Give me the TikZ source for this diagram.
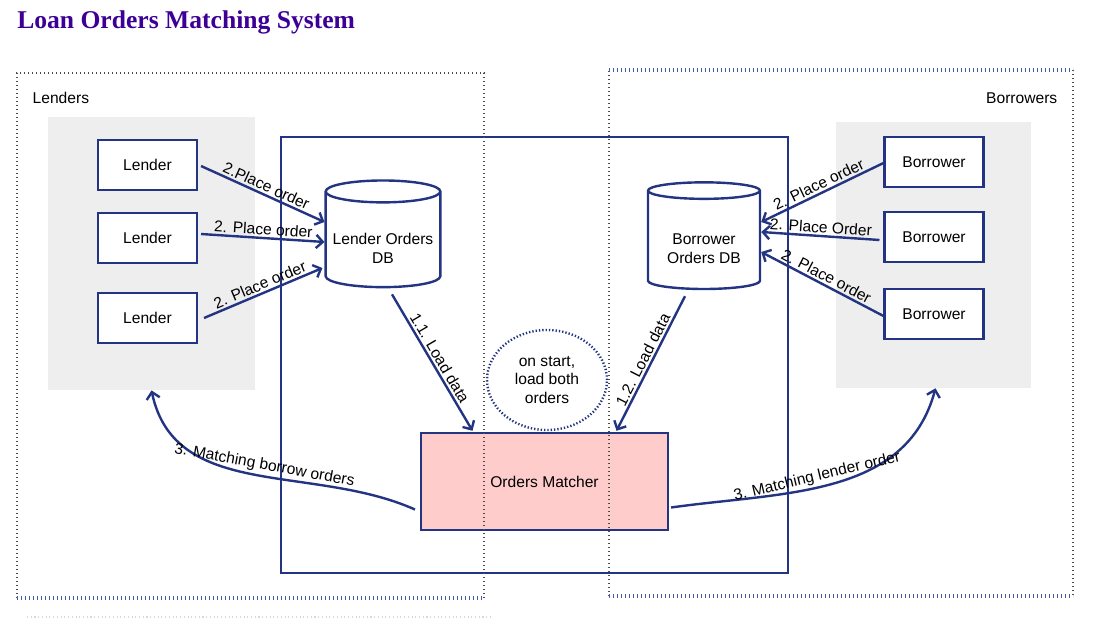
\documentclass[tikz,border=0pt]{standalone}
\usepackage{fontspec}
\setmainfont{Liberation Sans}
\newfontfamily\titlefont{Liberation Serif}
\usetikzlibrary{arrows.meta}
\usetikzlibrary{shapes.geometric}
\usetikzlibrary{calc}
\definecolor{navy}{RGB}{35,52,130}
\definecolor{titlepurple}{RGB}{60,0,150}
\definecolor{panelgray}{RGB}{238,238,238}
\definecolor{matcherpink}{RGB}{255,204,204}
\definecolor{dotblue}{RGB}{70,90,165}
\tikzset{
  actor/.style={draw=navy, line width=1.8pt, fill=white, minimum width=74pt, minimum height=37.5pt},
  ordersdb/.style={cylinder, shape border rotate=90, aspect=0.2, draw=navy, line width=1.8pt, fill=white, minimum width=86pt, minimum height=80pt, align=center},
  flow/.style={navy, line width=1.8pt, -{Straight Barb[length=5pt,width=10pt]}},
  flowlabel/.style={sloped, above, inner sep=1.5pt, text=black},
  greydots/.style={black!70, line width=1pt, dotted},
  bluedots/.style={dotblue, line width=2.5pt, dash pattern=on 1.1pt off 1.9pt}
}
\newcommand{\dbpush}{\rule{0pt}{18pt}}
\begin{document}
\begin{tikzpicture}[line cap=butt, line join=miter, x=0.75pt, y=-0.75pt, font=\fontsize{11.7}{14}\selectfont]
\useasboundingbox (0,0) rectangle (1100,628);
% title
\node[anchor=west, inner sep=0pt, text=titlepurple, font=\titlefont\bfseries\fontsize{19.2}{22}\selectfont] (title) at (17,22) {Loan Orders Matching System};
% grey panels
\node[fill=panelgray, minimum width=155pt, minimum height=205pt, inner sep=0pt] (lgrp) at (151.5,253.5) {};
\node[fill=panelgray, minimum width=146pt, minimum height=199.5pt, inner sep=0pt] (rgrp) at (933.5,255) {};
\node[anchor=west] (lenders) at (28,98) {Lenders};
\node[anchor=east] (borrowers) at (1062,98) {Borrowers};
% system frame
\draw[navy, line width=2.2pt] (281,137) rectangle (788,573);
% participants
\node[actor] (l1) at (147.5,165) {Lender};
\node[actor] (l2) at (147.5,238) {Lender};
\node[actor] (l3) at (147.5,318) {Lender};
\node[actor] (b1) at (934,162) {Borrower};
\node[actor] (b2) at (934,237) {Borrower};
\node[actor] (b3) at (934,314) {Borrower};
% stores
\node[ordersdb] (ldb) at (383,242) {\dbpush Lender Orders\\DB};
\node[ordersdb, minimum width=84pt] (bdb) at (704,242) {\dbpush Borrower\\Orders DB};
% matcher
\node[draw=navy, line width=1.8pt, fill=matcherpink, minimum width=185pt, minimum height=72.75pt] (om) at (544.5,481.5) {Orders Matcher};
\node[ellipse, draw=navy, line width=1.8pt, dash pattern=on 1pt off 1.5pt, minimum width=90pt, minimum height=75pt, align=center, inner sep=0pt] (note) at (547,380) {on start,\\load both\\orders};
% place order
\draw[flow] ($(l1.east)+(3,1)$) -- node[flowlabel] {2.Place order} ($(ldb.west)+(0,-20)$);
\draw[flow] ($(l2.east)+(3,-4)$) -- node[flowlabel] {2. Place order} ($(ldb.west)+(0,0)$);
\draw[flow] ($(l3.east)+(6,0)$) -- node[flowlabel] {2. Place order} ($(ldb.west)+(-2,26)$);
\draw[flow] ($(b1.west)+(0,1)$) -- node[flowlabel] {2. Place order} ($(bdb.east)+(0,-20)$);
\draw[flow] ($(b2.west)+(-4,3)$) -- node[flowlabel] {2. Place Order} ($(bdb.east)+(0,-10)$);
\draw[flow] ($(b3.west)+(0,2)$) -- node[flowlabel] {2. Place order} ($(bdb.east)+(0,10)$);
% load data
\draw[flow] ($(ldb.south)+(9,6)$) -- node[flowlabel] {1.1. Load data} ($(om.north)+(-72,-1)$);
\draw[flow] ($(bdb.south)+(-19,6)$) -- node[flowlabel] {1.2. Load data} ($(om.north)+(72,-1)$);
% matches back
\draw[flow] ($(om.west)+(-5,28)$) to[out=156, in=-78] node[flowlabel, pos=0.47] {3. Matching borrow orders} (lgrp.south);
\draw[flow] ($(om.east)+(2,26)$) to[out=8, in=-105] node[flowlabel, pos=0.45] {3. Matching lender order} ($(rgrp.south)+(2,0)$);
% group outlines
\draw[greydots] (484,598) -- (484,73) -- (17,73) -- (17,598);
\draw[bluedots] (17,598) -- (484,598);
\draw[greydots] (609,596) -- (609,70);
\draw[greydots] (1073,70) -- (1073,596);
\draw[bluedots] (609,70) -- (1073,70);
\draw[bluedots] (609,596) -- (1073,596);
\draw[black!15, line width=0.8pt, dotted] (27,617) -- (493,617);
\end{tikzpicture}
\end{document}
